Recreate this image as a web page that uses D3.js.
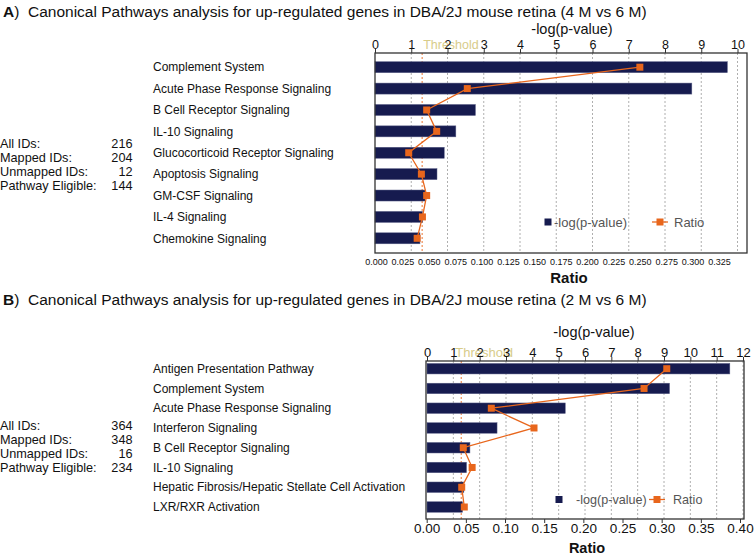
<!DOCTYPE html>
<html><head><meta charset="utf-8">
<script src="https://cdn.jsdelivr.net/npm/d3@7"></script>
<style>
body{margin:0;background:#fff;}
svg{font-family:"Liberation Sans",Arial,sans-serif;}
</style></head>
<body>
<svg id="c" width="756" height="555"></svg>
<script>
// ---------- data ----------
const titleA = "Canonical Pathways analysis for up-regulated genes in DBA/2J mouse retina (4 M vs 6 M)";
const titleB = "Canonical Pathways analysis for up-regulated genes in DBA/2J mouse retina (2 M vs 6 M)";
const categoriesA = ["Complement System","Acute Phase Response Signaling","B Cell Receptor Signaling","IL-10 Signaling","Glucocorticoid Receptor Signaling","Apoptosis Signaling","GM-CSF Signaling","IL-4 Signaling","Chemokine Signaling"];
const logpA  = [9.72, 8.74, 2.77, 2.23, 1.91, 1.71, 1.38, 1.31, 1.24];
const ratioA = [0.250, 0.0865, 0.048, 0.0575, 0.031, 0.043, 0.048, 0.044, 0.039];
const categoriesB = ["Antigen Presentation Pathway","Complement System","Acute Phase Response Signaling","Interferon Signaling","B Cell Receptor Signaling","IL-10 Signaling","Hepatic Fibrosis/Hepatic Stellate Cell Activation","LXR/RXR Activation"];
const logpB  = [11.5, 9.21, 5.25, 2.66, 1.63, 1.50, 1.40, 1.35];
const ratioB = [0.3065, 0.2775, 0.0825, 0.137, 0.0467, 0.058, 0.0447, 0.048];
const statLabels = ["All IDs:","Mapped IDs:","Unmapped IDs:","Pathway Eligible:"];
const statsA = [216, 204, 12, 144];
const statsB = [364, 348, 16, 234];
const topTicksA = [0,1,2,3,4,5,6,7,8,9,10];
const topTicksB = [0,1,2,3,4,5,6,7,8,9,10,11,12];
const ratioTicksA = [0,0.025,0.05,0.075,0.1,0.125,0.15,0.175,0.2,0.225,0.25,0.275,0.3,0.325];
const ratioTicksB = [0,0.05,0.1,0.15,0.2,0.25,0.3,0.35,0.4];
const threshold = 1.3;

const NAVY = "#161b4f", ORANGE = "#e8661c", TAN = "#d8cc8a";
const svg = d3.select("#c");

function panel(o){
  const g = svg.append("g");
  // title
  const t = g.append("text").attr("x",3).attr("y",o.titleY).attr("font-size",15.5).attr("fill","#111");
  t.append("tspan").attr("font-weight","bold").text(o.letter);
  t.append("tspan").text(")\u00a0\u00a0" + o.title);

  const x = d3.scaleLinear().domain([0, o.topMax]).range([o.x0, o.x1]);
  const xr = d3.scaleLinear().domain([0, o.rMax]).range([o.rx0, o.rx1]);
  const y = d3.scalePoint().domain(o.cats).range([o.yc0, o.yc1]);

  // dotted gridlines
  g.append("g").selectAll("line").data(o.topTicks.filter(d=>d>0)).join("line")
    .attr("x1",d=>x(d)).attr("x2",d=>x(d)).attr("y1",o.fy0).attr("y2",o.fy1)
    .attr("stroke","#9a9a9a").attr("stroke-width",0.8).attr("stroke-dasharray","2,2");
  // threshold
  g.append("line").attr("x1",x(threshold)).attr("x2",x(threshold)).attr("y1",o.fy0).attr("y2",o.fy1)
    .attr("stroke",ORANGE).attr("stroke-width",0.9).attr("stroke-dasharray","2,2");
  g.append("text").attr("x",x(threshold)+o.thrDx).attr("y",o.tickY).attr("font-size",o.topFont)
    .attr("fill",TAN).text("Threshold");

  // bars
  g.append("g").selectAll("rect").data(o.cats).join("rect")
    .attr("x",x(0)).attr("y",(d)=>y(d)-o.barH/2)
    .attr("width",(d,i)=>x(o.logp[i])-x(0)).attr("height",o.barH)
    .attr("fill",NAVY).attr("stroke","#5a5f86").attr("stroke-width",0.5);

  // frame
  g.append("rect").attr("x",o.fx0).attr("y",o.fy0).attr("width",o.fx1-o.fx0).attr("height",o.fy1-o.fy0)
    .attr("fill","none").attr("stroke","#333").attr("stroke-width",1.3);

  // top axis
  const ta = d3.axisTop(x).tickValues(o.topTicks).tickSize(4).tickFormat(d3.format("d"));
  const tg = g.append("g").attr("transform",`translate(0,${o.fy0})`).call(ta);
  tg.select(".domain").remove();
  tg.selectAll("line").attr("stroke","#333");
  tg.selectAll("text").attr("font-size",o.topFont).attr("fill","#111").attr("font-family","Liberation Sans, Arial, sans-serif").attr("dy",0).attr("y",o.tickY-o.fy0+0);
  g.append("text").attr("x",o.topTitleX).attr("y",o.topTitleY).attr("text-anchor","middle")
    .attr("font-size",14.5).attr("fill","#111").text("-log(p-value)");

  // bottom ratio axis
  const ba = d3.axisBottom(xr).tickValues(o.rTicks).tickSize(o.bTickSize).tickFormat(d3.format(o.rFmt));
  const bg = g.append("g").attr("transform",`translate(0,${o.fy1})`).call(ba);
  bg.select(".domain").remove();
  bg.selectAll("line").attr("stroke","#333");
  bg.selectAll("text").attr("font-size",o.bFont).attr("fill","#111").attr("font-family","Liberation Sans, Arial, sans-serif").attr("y",o.bLabY).attr("dy","0.71em");
  g.append("text").attr("x",o.ratioX).attr("y",o.ratioY).attr("text-anchor","middle")
    .attr("font-size",o.ratioFont).attr("font-weight","bold").attr("fill","#111").text("Ratio");

  // ratio line + points
  const line = d3.line().x((d,i)=>xr(o.ratio[i])).y(d=>y(d));
  g.append("path").datum(o.cats).attr("d",line).attr("fill","none").attr("stroke",ORANGE).attr("stroke-width",1.3);
  g.append("g").selectAll("rect").data(o.cats).join("rect")
    .attr("x",(d,i)=>xr(o.ratio[i])-3.5).attr("y",d=>y(d)-3.5).attr("width",7).attr("height",7).attr("fill",ORANGE);

  // category labels
  g.append("g").selectAll("text").data(o.cats).join("text")
    .attr("x",153).attr("y",d=>y(d)).attr("dy","0.35em").attr("font-size",12).attr("fill","#111").text(d=>d);

  // stats
  g.append("g").selectAll("text").data(statLabels).join("text")
    .attr("x",0).attr("y",(d,i)=>o.statY+i*14).attr("dy","0.35em").attr("font-size",12.7).attr("fill","#111").text(d=>d);
  g.append("g").selectAll("text").data(o.stats).join("text")
    .attr("x",132.5).attr("y",(d,i)=>o.statY+i*14).attr("dy","0.35em").attr("text-anchor","end").attr("font-size",12.7).attr("fill","#111").text(d=>d);

  // legend
  g.append("rect").attr("x",o.lgX-3.5).attr("y",o.lgY-3.5).attr("width",7).attr("height",7).attr("fill",NAVY);
  g.append("text").attr("x",o.lgTx).attr("y",o.lgY).attr("dy","0.35em").attr("font-size",o.lgFont).attr("fill","#555").text("-log(p-value)");
  g.append("line").attr("x1",o.lrX-8).attr("x2",o.lrX+8).attr("y1",o.lgY).attr("y2",o.lgY).attr("stroke",ORANGE).attr("stroke-width",1.3);
  g.append("rect").attr("x",o.lrX-3.5).attr("y",o.lgY-3.5).attr("width",7).attr("height",7).attr("fill",ORANGE);
  g.append("text").attr("x",o.lrTx).attr("y",o.lgY).attr("dy","0.35em").attr("font-size",o.lgFont).attr("fill","#555").text("Ratio");
}

panel({letter:"A", title:titleA, titleY:17,
  cats:categoriesA, logp:logpA, ratio:ratioA, stats:statsA, statY:144,
  topMax:10, x0:375, x1:737.5, topTicks:topTicksA, topFont:12.5, tickY:49, topTitleX:572, topTitleY:34, thrDx:1,
  rMax:0.325, rx0:376, rx1:719, rTicks:ratioTicksA, rFmt:".3f", bFont:9, bTickSize:0, bLabY:6,
  ratioX:569, ratioY:283, ratioFont:15,
  fx0:375, fx1:747, fy0:53, fy1:253, yc0:67.2, yc1:238.3, barH:11,
  lgX:548, lgY:222, lgTx:554, lrX:660, lrTx:674, lgFont:13});

panel({letter:"B", title:titleB, titleY:305,
  cats:categoriesB, logp:logpB, ratio:ratioB, stats:statsB, statY:426,
  topMax:12, x0:427, x1:743, topTicks:topTicksB, topFont:13, tickY:357, topTitleX:594, topTitleY:337, thrDx:-6,
  rMax:0.4, rx0:426.7, rx1:740, rTicks:ratioTicksB, rFmt:".2f", bFont:13.5, bTickSize:4, bLabY:4,
  ratioX:587, ratioY:553, ratioFont:14.5,
  fx0:426, fx1:744, fy0:361, fy1:519, yc0:368.7, yc1:507, barH:10.5,
  lgX:559, lgY:499.5, lgTx:576, lrX:657, lrTx:673, lgFont:12.6});
</script>
</body></html>
